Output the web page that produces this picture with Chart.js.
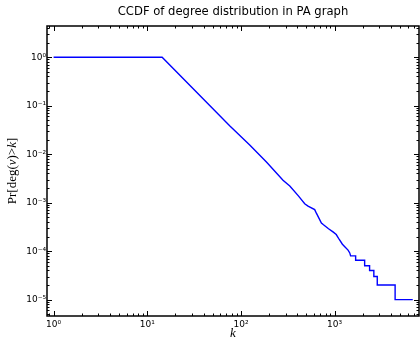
<!DOCTYPE html>
<html>
<head>
<meta charset="utf-8">
<script src="https://cdn.jsdelivr.net/npm/chart.js@4.4.0/dist/chart.umd.min.js"></script>
<style>
  html, body { margin: 0; padding: 0; background: #fff; }
  #wrap { width: 420px; height: 340px; }
</style>
</head>
<body>
<div id="wrap"><canvas id="myChart" width="420" height="340"></canvas></div>
<script>
// degree k and Pr[deg(v) > k]
const degK = [1, 14.4, 76.2, 124, 187, 281, 332, 410, 479, 520, 612, 640, 722, 760, 860, 960, 1040, 1120, 1210, 1290, 1390, 1450, 1480,
  1675, 1675, 2090, 2090, 2360, 2360, 2620, 2620, 2850, 2850, 4420, 4420, 6820];
const ccdf = [1, 1, 0.038, 0.0155, 0.0069, 0.0029, 0.0022, 0.00138, 0.00095, 0.00085, 0.00072, 0.0006, 0.00038, 0.00035, 0.00029, 0.00025, 0.00022, 0.000174, 0.000139, 0.000122, 0.000105, 0.000092, 0.00008,
  0.00008, 0.000065, 0.000065, 0.00005, 0.00005, 0.00004, 0.00004, 0.00003, 0.00003, 0.00002, 0.00002, 0.00001, 0.00001];

const xMajor = [1, 10, 100, 1000];
const yMajor = [1, 0.1, 0.01, 0.001, 0.0001, 0.00001];

const supMap = { '-': '\u207B', '0': '\u2070', '1': '\u00B9', '2': '\u00B2', '3': '\u00B3', '4': '\u2074', '5': '\u2075', '6': '\u2076' };
function powLabel(v) {
  const e = Math.round(Math.log10(v));
  return '10' + String(e).split('').map(c => supMap[c]).join('');
}
function isMajor(v, list) {
  return list.some(m => Math.abs(Math.log10(v) - Math.log10(m)) < 1e-9);
}
// 1..9 x 10^n inside the range
function logTicks(min, max) {
  const out = [];
  for (let e = Math.floor(Math.log10(min)); e <= Math.ceil(Math.log10(max)); e++) {
    for (let m = 1; m <= 9; m++) {
      const v = m * Math.pow(10, e);
      if (v >= min && v <= max) out.push(v);
    }
  }
  return out;
}

const framePlugin = {
  id: 'framePlugin',
  afterDraw(chart) {
    const { ctx, chartArea: a } = chart;
    const xs = chart.scales.x, ys = chart.scales.y;
    ctx.save();
    ctx.strokeStyle = '#000';
    ctx.lineWidth = 1;
    // ticks inside, all four sides
    xs.ticks.forEach(t => {
      const px = Math.round(xs.getPixelForValue(t.value)) + 0.5;
      const len = isMajor(t.value, xMajor) ? 5 : 2.5;
      ctx.beginPath();
      ctx.moveTo(px, a.bottom); ctx.lineTo(px, a.bottom - len);
      ctx.moveTo(px, a.top); ctx.lineTo(px, a.top + len);
      ctx.stroke();
    });
    ys.ticks.forEach(t => {
      const py = Math.round(ys.getPixelForValue(t.value)) + 0.5;
      const len = isMajor(t.value, yMajor) ? 5 : 2.5;
      ctx.beginPath();
      ctx.moveTo(a.left, py); ctx.lineTo(a.left + len, py);
      ctx.moveTo(a.right, py); ctx.lineTo(a.right - len, py);
      ctx.stroke();
    });
    ctx.lineWidth = 1.5;
    ctx.strokeRect(a.left, a.top, a.right - a.left, a.bottom - a.top);

    // title
    ctx.fillStyle = '#000';
    ctx.textAlign = 'center';
    ctx.textBaseline = 'middle';
    ctx.font = '11.6px "DejaVu Sans"';
    ctx.fillText('CCDF of degree distribution in PA graph', (a.left + a.right) / 2, 12);

    // x title
    ctx.font = 'italic 13px "Liberation Serif"';
    ctx.fillText('k', (a.left + a.right) / 2, 334);

    // y title with mixed fonts
    const parts = [
      ['Pr[deg(', '13px "Liberation Serif"'],
      ['v', 'italic 13px "Liberation Serif"'],
      [')>', '13px "Liberation Serif"'],
      ['k', 'italic 13px "Liberation Serif"'],
      [']', '13px "Liberation Serif"']
    ];
    let total = 0;
    parts.forEach(p => { ctx.font = p[1]; total += ctx.measureText(p[0]).width; });
    ctx.translate(13, (a.top + a.bottom) / 2);
    ctx.rotate(-Math.PI / 2);
    ctx.textAlign = 'left';
    let cx = -total / 2;
    parts.forEach(p => { ctx.font = p[1]; ctx.fillText(p[0], cx, 0); cx += ctx.measureText(p[0]).width; });
    ctx.restore();
  }
};

const tickFont = { family: 'DejaVu Sans', size: 9 };

new Chart(document.getElementById('myChart').getContext('2d'), {
  type: 'line',
  data: {
    datasets: [{
      data: degK.map((k, i) => ({ x: k, y: ccdf[i] })),
      borderColor: '#0000ff',
      borderWidth: 1.4,
      pointRadius: 0,
      fill: false,
      tension: 0
    }]
  },
  options: {
    responsive: false,
    animation: false,
    devicePixelRatio: 1,
    layout: { padding: { top: 26, right: 1, left: 0, bottom: 0 } },
    plugins: { legend: { display: false }, tooltip: { enabled: false }, title: { display: false } },
    scales: {
      x: {
        type: 'logarithmic',
        min: 0.85, max: 7950,
        grid: { display: false, drawTicks: false },
        border: { display: false },
        afterBuildTicks: s => { s.ticks = logTicks(s.min, s.max).map(v => ({ value: v })); },
        afterFit: s => { s.height = 24; },
        ticks: {
          autoSkip: false, maxRotation: 0, padding: 3, color: '#000', font: tickFont,
          callback: v => isMajor(v, xMajor) ? powLabel(v) : ''
        }
      },
      y: {
        type: 'logarithmic',
        min: 4.6e-6, max: 4.4,
        grid: { display: false, drawTicks: false },
        border: { display: false },
        afterBuildTicks: s => { s.ticks = logTicks(s.min, s.max).map(v => ({ value: v })); },
        afterFit: s => { s.width = 47; },
        ticks: {
          autoSkip: false, padding: 1, color: '#000', font: tickFont,
          callback: v => isMajor(v, yMajor) ? powLabel(v) : ''
        }
      }
    }
  },
  plugins: [framePlugin]
});
</script>
</body>
</html>
